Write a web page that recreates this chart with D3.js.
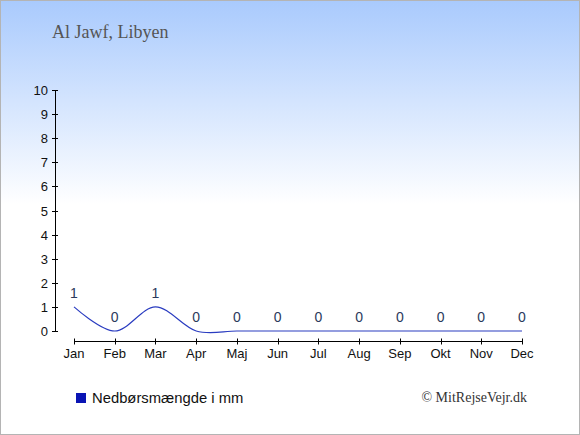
<!DOCTYPE html>
<html><head><meta charset="utf-8">
<script src="https://cdn.jsdelivr.net/npm/d3@7"></script>
<style>html,body{margin:0;padding:0;background:#fff;}svg{display:block;}</style>
</head><body>
<script>
const months = ["Jan","Feb","Mar","Apr","Maj","Jun","Jul","Aug","Sep","Okt","Nov","Dec"];
const precipitation = [1,0,1,0,0,0,0,0,0,0,0,0];
const yTicks = [0,1,2,3,4,5,6,7,8,9,10];
const title = "Al Jawf, Libyen";
const legendLabel = "Nedbørsmængde i mm";
const credit = "© MitRejseVejr.dk";

const W = 580, H = 435;
const svg = d3.select("body").append("svg").attr("width", W).attr("height", H);
const defs = svg.append("defs");
const grad = defs.append("linearGradient").attr("id","bg").attr("x1",0).attr("y1",0).attr("x2",0).attr("y2",1);
grad.append("stop").attr("offset","0%").attr("stop-color","#a9cafd");
grad.append("stop").attr("offset","47%").attr("stop-color","#ffffff");
grad.append("stop").attr("offset","100%").attr("stop-color","#ffffff");
svg.append("rect").attr("x",0.5).attr("y",0.5).attr("width",W-1).attr("height",H-1)
  .attr("fill","url(#bg)").attr("stroke","#b4b4b4").attr("stroke-width",1);

svg.append("text").attr("x",52).attr("y",38).text(title)
  .attr("font-family","'Liberation Serif', 'Times New Roman', serif").attr("font-size",18).attr("fill","#555");

const x = d3.scalePoint().domain(months).range([74,522]);
const y = d3.scaleLinear().domain([0,10]).range([331,90]);

// y axis
const yAxis = svg.append("g");
yAxis.append("line").attr("x1",55.5).attr("x2",55.5).attr("y1",y(10)).attr("y2",y(0)).attr("stroke","#000");
yAxis.selectAll("line.t").data(yTicks).enter().append("line").attr("class","t")
  .attr("x1",52).attr("x2",58).attr("y1",d=>Math.round(y(d))+0.5).attr("y2",d=>Math.round(y(d))+0.5).attr("stroke","#000");
yAxis.selectAll("text").data(yTicks).enter().append("text")
  .attr("x",48).attr("y",d=>y(d)+5).attr("text-anchor","end").text(d=>d)
  .attr("font-family","'Liberation Sans', Arial, sans-serif").attr("font-size",13).attr("fill","#111");

// x axis
const xAxisY = 341.5;
const xAxis = svg.append("g");
xAxis.append("line").attr("x1",x("Jan")).attr("x2",x("Dec")).attr("y1",xAxisY).attr("y2",xAxisY).attr("stroke","#000");
xAxis.selectAll("line.t").data(months).enter().append("line").attr("class","t")
  .attr("x1",d=>Math.round(x(d))+0.5).attr("x2",d=>Math.round(x(d))+0.5).attr("y1",xAxisY-3).attr("y2",xAxisY+3).attr("stroke","#000");
xAxis.selectAll("text").data(months).enter().append("text")
  .attr("x",d=>x(d)).attr("y",358).attr("text-anchor","middle").text(d=>d)
  .attr("font-family","'Liberation Sans', Arial, sans-serif").attr("font-size",13).attr("fill","#111");

// line
const line = d3.line().x((d,i)=>x(months[i])).y(d=>y(d)).curve(d3.curveCardinal.tension(0));
svg.append("path").datum(precipitation).attr("d",line).attr("fill","none")
  .attr("stroke","#2a3cc0").attr("stroke-width",1.2);

// value labels
svg.selectAll("text.v").data(precipitation).enter().append("text").attr("class","v")
  .attr("x",(d,i)=>x(months[i])).attr("y",d=>y(d)-9).attr("text-anchor","middle").text(d=>d)
  .attr("font-family","'Liberation Sans', Arial, sans-serif").attr("font-size",14).attr("fill","#2b3a5c");

// legend
svg.append("rect").attr("x",76).attr("y",393).attr("width",10).attr("height",10).attr("fill","#0a14b4");
svg.append("text").attr("x",92).attr("y",403).text(legendLabel)
  .attr("font-family","'Liberation Sans', Arial, sans-serif").attr("font-size",14.8).attr("fill","#111");
svg.append("text").attr("x",527).attr("y",402).attr("text-anchor","end").text(credit)
  .attr("font-family","'Liberation Serif', 'Times New Roman', serif").attr("font-size",14).attr("fill","#333");
</script>
</body></html>
